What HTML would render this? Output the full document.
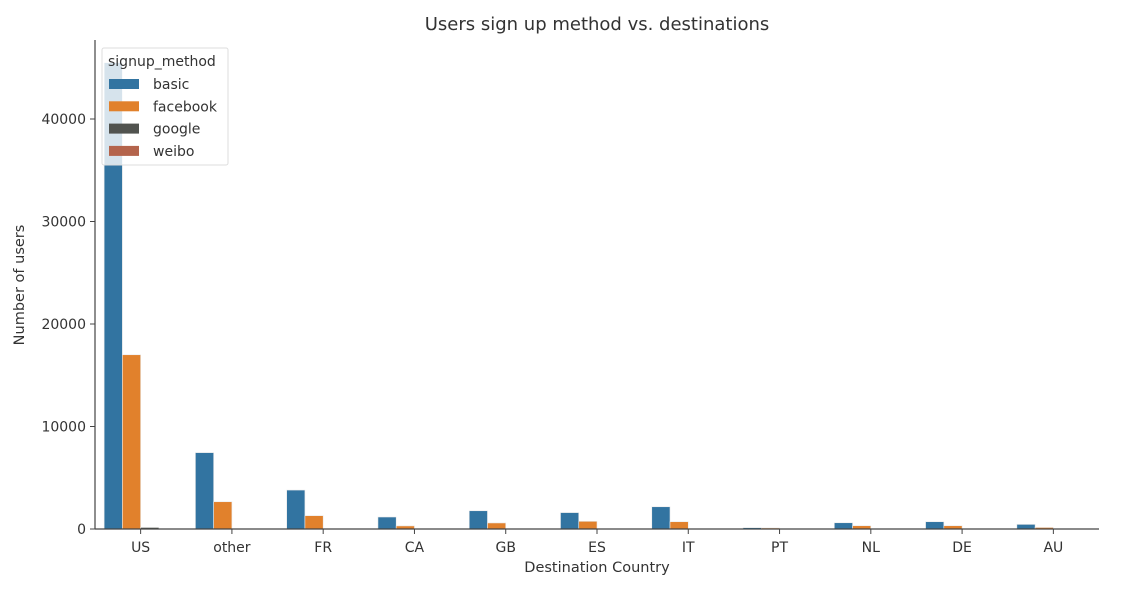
<!DOCTYPE html>
<html><head><meta charset="utf-8"><style>
body{margin:0;background:#fff;}
svg text{font-family:"DejaVu Sans","Liberation Sans",sans-serif;fill:#333;}
</style></head><body>
<svg id="chart" width="1146" height="586" xmlns="http://www.w3.org/2000/svg">
<text x="597" y="30" font-size="18" text-anchor="middle">Users sign up method vs. destinations</text>
<text x="597" y="572" font-size="14.5" text-anchor="middle">Destination Country</text>
<text x="24" y="285" font-size="14.5" text-anchor="middle" transform="rotate(-90 24 285)">Number of users</text>
<g id="bars"></g>
<g id="axes"></g>
<g id="legend"></g>
</svg>
<script>
const categories=["US","other","FR","CA","GB","ES","IT","PT","NL","DE","AU"];
const seriesNames=["basic","facebook","google","weibo"];
const basic=[45500,7450,3800,1170,1780,1600,2170,130,610,710,450];
const facebook=[17000,2660,1300,300,590,750,710,100,320,320,150];
const google=[150,15,10,5,5,5,5,2,3,3,2];
const weibo=[5,2,1,1,1,1,1,0,0,0,0];
const yTicks=[0,10000,20000,30000,40000];
const colors=["#3274a1","#e1812c","#51534f","#b4644c"];
const series=[basic,facebook,google,weibo];
const NS="http://www.w3.org/2000/svg";
const L=95,R=1099,B=529,T=40;
const bw=(R-L)/categories.length;
const y=v=>B-v*(102.5/10000);
const xc=i=>L+bw*(i+0.5);
function mk(tag,attrs,parent){const e=document.createElementNS(NS,tag);for(const k in attrs)e.setAttribute(k,attrs[k]);parent.appendChild(e);return e;}
const gb=document.getElementById('bars'),ga=document.getElementById('axes'),gl=document.getElementById('legend');
const barW=bw*0.8/4;
series.forEach((s,si)=>{s.forEach((v,i)=>{
 const x=xc(i)-bw*0.4+si*barW;
 const r=mk('rect',{x:x,y:y(v),width:barW,height:B-y(v),fill:colors[si],stroke:'#eaeaea','stroke-width':0.6},gb);
 
 
});});
mk('line',{x1:L,y1:T,x2:L,y2:B,stroke:'#444','stroke-width':1.2},ga);
mk('line',{x1:L,y1:B,x2:R,y2:B,stroke:'#444','stroke-width':1.2},ga);
yTicks.forEach(t=>{
 mk('line',{x1:L-5,y1:y(t),x2:L,y2:y(t),stroke:'#444'},ga);
 const tx=mk('text',{x:L-9,y:y(t)+5,'font-size':14,'text-anchor':'end'},ga);tx.textContent=t;
 
 
});
categories.forEach((c,i)=>{
 mk('line',{x1:xc(i),y1:B,x2:xc(i),y2:B+5,stroke:'#444'},ga);
 const tx=mk('text',{x:xc(i),y:B+23,'font-size':14,'text-anchor':'middle'},ga);tx.textContent=c;
 
 
});
const lb=mk('rect',{x:102,y:48,width:126,height:117,fill:'#fff','fill-opacity':0.8,stroke:'#ddd',rx:2},gl);

const lt=mk('text',{x:108,y:66,'font-size':14},gl);lt.textContent='signup_method';

seriesNames.forEach((n,i)=>{
 const yy=84+i*22.3;
 mk('rect',{x:109,y:yy-5,width:30,height:10,fill:colors[i]},gl);
 const t=mk('text',{x:153,y:yy+5,'font-size':14},gl);t.textContent=n;
 
 
});
</script>
</body></html>
